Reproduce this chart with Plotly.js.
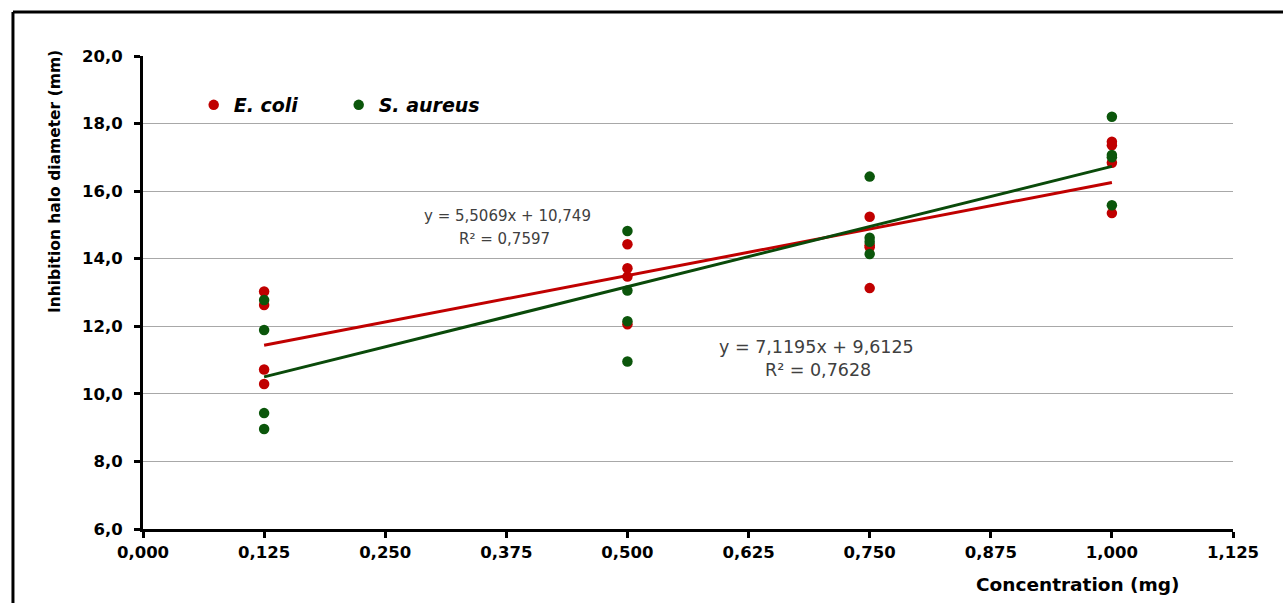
<!DOCTYPE html>
<html>
<head>
<meta charset="utf-8">
<script src="https://cdn.plot.ly/plotly-3.0.1.min.js"></script>
<style>html,body{margin:0;padding:0;background:#fff;}#chart{width:1283px;height:603px;}</style>
</head>
<body>
<div id="chart"></div>
<script>
// Data
var ecoliX = [0.125,0.125,0.125,0.125, 0.5,0.5,0.5,0.5, 0.75,0.75,0.75,0.75, 1.0,1.0,1.0,1.0];
var ecoliY = [13.03,12.63,10.72,10.29, 14.43,13.72,13.47,12.06, 15.24,14.40,14.34,13.13, 17.46,17.36,16.84,15.35];
var aureusX = [0.125,0.125,0.125,0.125, 0.5,0.5,0.5,0.5, 0.75,0.75,0.75,0.75, 1.0,1.0,1.0,1.0];
var aureusY = [12.78,11.89,9.43,8.96, 14.82,13.06,12.15,10.96, 16.43,14.62,14.50,14.14, 18.20,17.07,17.00,15.58];
var ecoliFit = {slope: 5.5069, intercept: 10.749, eq: "y = 5,5069x + 10,749", r2: "R² = 0,7597"};
var aureusFit = {slope: 7.1195, intercept: 9.6125, eq: "y = 7,1195x + 9,6125", r2: "R² = 0,7628"};
var fitX = [0.125, 1.0];
var xTicks = [0,0.125,0.25,0.375,0.5,0.625,0.75,0.875,1.0,1.125];
var yTicks = [6,8,10,12,14,16,18,20];

var red = '#c00000', green = '#0b560b';
function line(f){ return fitX.map(function(x){ return f.slope*x + f.intercept; }); }

var traces = [
  {x: ecoliX, y: ecoliY, type:'scatter', mode:'markers', name:'<b><i>E. coli</i></b>',
   marker:{color:red, size:10.5}},
  {x: aureusX, y: aureusY, type:'scatter', mode:'markers', name:'<b><i>S. aureus</i></b>',
   marker:{color:green, size:10.5}},
  {x: fitX, y: line(ecoliFit), type:'scatter', mode:'lines', showlegend:false,
   line:{color:red, width:3}, hoverinfo:'skip'},
  {x: fitX, y: line(aureusFit), type:'scatter', mode:'lines', showlegend:false,
   line:{color:'#0a4a0a', width:3}, hoverinfo:'skip'}
];

var FF = 'DejaVu Sans, Liberation Sans, Arial, sans-serif';
var tickFont = {family:FF, size:16.5, color:'#000', weight:'bold'};
var eqFont1 = {family:FF, size:15, color:'#404040'};
var eqFont2 = {family:FF, size:17.5, color:'#404040'};
var layout = {
  width:1283, height:603,
  margin:{l:143, r:50, t:56, b:74},
  paper_bgcolor:'#fff', plot_bgcolor:'#fff',
  separators:', ',
  showlegend:true,
  legend:{orientation:'h', x:0.0465, y:0.8964, xanchor:'left', yanchor:'middle',
    font:{family:FF, size:19, color:'#000'},
    bgcolor:'rgba(0,0,0,0)', entrywidth:100, entrywidthmode:'pixels', itemwidth:30},
  xaxis:{range:[0,1.125], tickvals:xTicks, tickformat:'.3f', showgrid:false, zeroline:false,
    showline:true, linecolor:'#000', linewidth:3, ticks:'outside', ticklen:6, tickwidth:3,
    tickcolor:'#000', tickfont:tickFont, fixedrange:true},
  yaxis:{range:[6,20], tickvals:yTicks, tickformat:'.1f', showgrid:true, gridcolor:'#a8a8a8',
    gridwidth:1, zeroline:false, showline:true, linecolor:'#000', linewidth:3,
    ticks:'outside', ticklen:6, tickwidth:3, tickcolor:'#000', tickfont:tickFont,
    ticklabelstandoff:8, fixedrange:true},
  shapes:[
    {type:'line', xref:'paper', yref:'paper', x0:-0.1193, x1:-0.1193, y0:1.093, y1:-0.3,
     line:{color:'#000', width:3}},
    {type:'line', xref:'paper', yref:'paper', x0:-0.1193, x1:1.2, y0:1.093, y1:1.093,
     line:{color:'#000', width:3}}
  ],
  annotations:[
    {xref:'paper', yref:'paper', x:-0.0807, y:0.7336, xanchor:'center', yanchor:'middle',
     text:'<b>Inhibition halo diameter (mm)</b>',
     textangle:-90, showarrow:false, font:{family:FF, size:15.5, color:'#000'}},
    {xref:'paper', yref:'paper', x:0.8578, y:-0.1163, xanchor:'center', yanchor:'middle',
     text:'<b>Concentration (mg)</b>',
     showarrow:false, font:{family:FF, size:18.5, color:'#000'}},
    {xref:'x', yref:'y', x:0.3767, y:15.265, text:ecoliFit.eq, showarrow:false, font:eqFont1},
    {xref:'x', yref:'y', x:0.3736, y:14.584, text:ecoliFit.r2, showarrow:false, font:eqFont1},
    {xref:'x', yref:'y', x:0.6956, y:11.388, text:aureusFit.eq, showarrow:false, font:eqFont2},
    {xref:'x', yref:'y', x:0.6966, y:10.707, text:aureusFit.r2, showarrow:false, font:eqFont2}
  ]
};
Plotly.newPlot('chart', traces, layout, {displayModeBar:false, staticPlot:true});
</script>
</body>
</html>
